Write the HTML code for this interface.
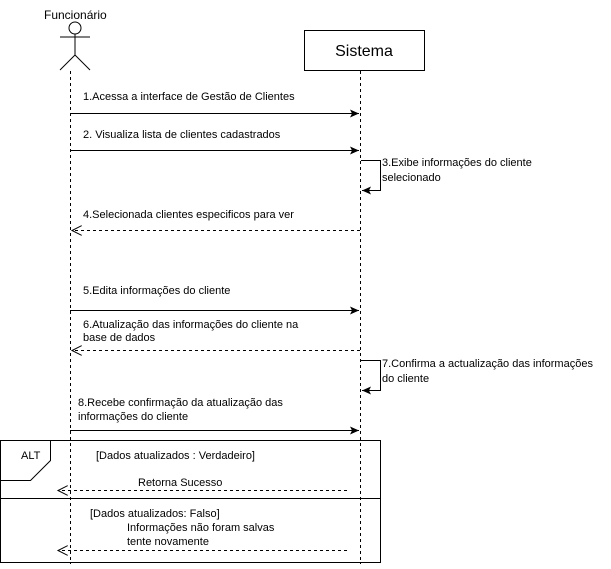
<!DOCTYPE html>
<html><head><meta charset="utf-8"><style>
body{margin:0;background:#fff;width:611px;height:564px;overflow:hidden}
text{font-family:"Liberation Sans",sans-serif;font-size:11px;fill:#000}
</style></head><body>
<svg width="611" height="564" xmlns="http://www.w3.org/2000/svg">
<defs>
<marker id="f" markerWidth="10" markerHeight="8" refX="9" refY="4" orient="auto" markerUnits="userSpaceOnUse"><path d="M0,0 L9,4 L0,8 L2,4 Z" fill="#000"/></marker>
<marker id="o" markerWidth="12" markerHeight="10" refX="10" refY="5" orient="auto" markerUnits="userSpaceOnUse"><path d="M0,0 L10,5 L0,10" fill="none" stroke="#000"/></marker>
</defs>
<text x="44" y="19" style="font-size:12px">Funcionário</text>
<circle cx="75" cy="28" r="6" fill="#fff" stroke="#000"/>
<line x1="75" y1="34" x2="75" y2="55" stroke="#000"/>
<line x1="60" y1="37" x2="90" y2="37" stroke="#000"/>
<line x1="75" y1="55" x2="60" y2="70" stroke="#000"/>
<line x1="75" y1="55" x2="90" y2="70" stroke="#000"/>
<line x1="70.5" y1="71" x2="70.5" y2="564" stroke="#000" stroke-dasharray="3,3"/>
<rect x="304.5" y="30.5" width="120" height="40" fill="#fff" stroke="#000"/>
<text x="364" y="56" text-anchor="middle" style="font-size:16px">Sistema</text>
<line x1="360.5" y1="71" x2="360.5" y2="564" stroke="#000" stroke-dasharray="3,3"/>

<text x="83" y="100">1.Acessa a interface de Gestão de Clientes</text>
<line x1="70" y1="113.5" x2="359" y2="113.5" stroke="#000" marker-end="url(#f)"/>
<text x="83" y="138">2. Visualiza lista de clientes cadastrados</text>
<line x1="70" y1="150.5" x2="359" y2="150.5" stroke="#000" marker-end="url(#f)"/>
<path d="M361,160.5 H380.5 V190.5 H362" fill="none" stroke="#000" marker-end="url(#f)"/>
<text x="382" y="166">3.Exibe informações do cliente</text>
<text x="382" y="181">selecionado</text>
<text x="83" y="218">4.Selecionada clientes especificos para ver</text>
<line x1="360" y1="230.5" x2="72" y2="230.5" stroke="#000" stroke-dasharray="3,3" marker-end="url(#o)"/>
<text x="83" y="294">5.Edita informações do cliente</text>
<line x1="70" y1="310.5" x2="359" y2="310.5" stroke="#000" marker-end="url(#f)"/>
<text x="83" y="328">6.Atualização das informações do cliente na</text>
<text x="83" y="341">base de dados</text>
<line x1="360" y1="350.5" x2="72" y2="350.5" stroke="#000" stroke-dasharray="3,3" marker-end="url(#o)"/>
<path d="M361,360.5 H380.5 V390.5 H362" fill="none" stroke="#000" marker-end="url(#f)"/>
<text x="382" y="367">7.Confirma a actualização das informações</text>
<text x="382" y="382">do cliente</text>
<text x="78" y="406">8.Recebe confirmação da atualização das</text>
<text x="78" y="420">informações do cliente</text>
<line x1="70" y1="430.5" x2="359" y2="430.5" stroke="#000" marker-end="url(#f)"/>

<rect x="0.5" y="440.5" width="380" height="122" fill="none" stroke="#000"/>
<path d="M0.5,480.5 H30.5 L50.5,460.5 V440.5" fill="none" stroke="#000"/>
<text x="21" y="459">ALT</text>
<text x="96" y="459">[Dados atualizados : Verdadeiro]</text>
<text x="138" y="486">Retorna Sucesso</text>
<line x1="347" y1="490.5" x2="58" y2="490.5" stroke="#000" stroke-dasharray="3,3" marker-end="url(#o)"/>
<line x1="0" y1="498.5" x2="381" y2="498.5" stroke="#000"/>
<text x="90" y="517">[Dados atualizados: Falso]</text>
<text x="127" y="531">Informações não foram salvas</text>
<text x="127" y="545">tente novamente</text>
<line x1="347" y1="550.5" x2="58" y2="550.5" stroke="#000" stroke-dasharray="3,3" marker-end="url(#o)"/>
</svg>
</body></html>
